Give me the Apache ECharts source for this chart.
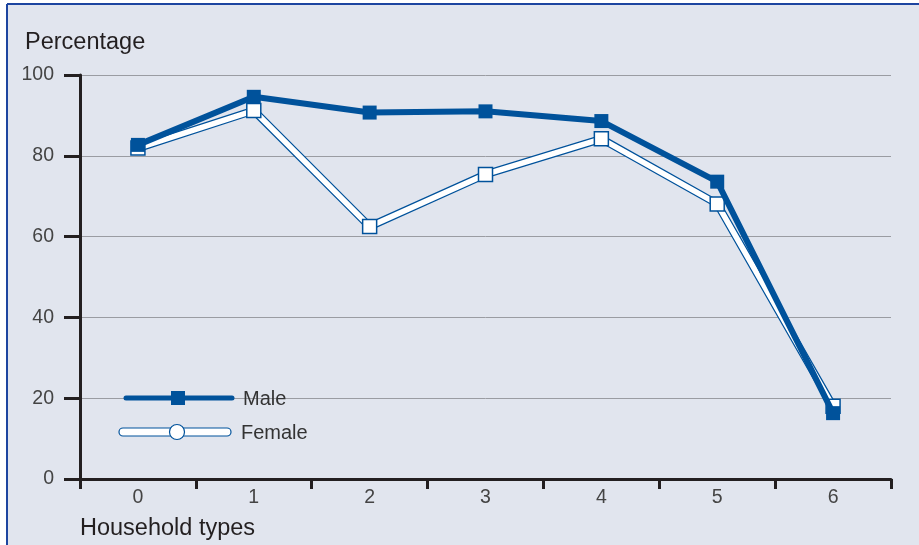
<!DOCTYPE html>
<html>
<head>
<meta charset="utf-8">
<script src="https://cdn.jsdelivr.net/npm/echarts@6/dist/echarts.min.js"></script>
<style>
html,body{margin:0;padding:0;background:#ffffff;}
#chart{width:919px;height:545px;}
</style>
</head>
<body>
<div id="chart"></div>
<script>
var categories = ['0', '1', '2', '3', '4', '5', '6'];
var maleValues = [82.7, 94.6, 90.7, 91.0, 88.6, 73.6, 16.3];
var femaleValues = [81.9, 91.2, 62.5, 75.4, 84.2, 68.1, 18.0];
var yTicks = { min: 0, max: 100, interval: 20 };

var BLUE = '#00529b';
var FONT = '"Liberation Sans", Arial, sans-serif';

var chart = echarts.init(document.getElementById('chart'), null, { renderer: 'canvas' });

chart.setOption({
  animation: false,
  backgroundColor: '#ffffff',
  textStyle: { fontFamily: FONT },
  grid: { left: 80, right: 28, top: 75, bottom: 66, containLabel: false },
  graphic: [
    { type: 'rect', z: -10, silent: true,
      shape: { x: 7, y: 4, width: 912, height: 541 },
      style: { fill: '#e1e5ee' } },
    { type: 'line', z: -9, silent: true,
      shape: { x1: 7, y1: 4, x2: 919, y2: 4 },
      style: { stroke: '#1d45a0', lineWidth: 2 } },
    { type: 'line', z: -9, silent: true,
      shape: { x1: 7, y1: 4, x2: 7, y2: 545 },
      style: { stroke: '#1d45a0', lineWidth: 2 } },
    { type: 'text', left: 25, top: 31, z: 5,
      style: { text: 'Percentage', fill: '#231f20', font: '23.5px ' + FONT } },
    { type: 'text', left: 80, top: 517, z: 5,
      style: { text: 'Household types', fill: '#231f20', font: '23.5px ' + FONT } },
    // legend: male
    { type: 'line', z: 20, shape: { x1: 126, y1: 398, x2: 232, y2: 398 },
      style: { stroke: BLUE, lineWidth: 5, lineCap: 'round' } },
    { type: 'rect', z: 21, shape: { x: 171, y: 391, width: 14, height: 14 },
      style: { fill: BLUE } },
    { type: 'text', left: 243, top: 389, z: 21,
      style: { text: 'Male', fill: '#333333', font: '20px ' + FONT } },
    // legend: female
    { type: 'rect', z: 20, shape: { x: 119, y: 428, width: 112, height: 8, r: 4 },
      style: { fill: '#ffffff', stroke: BLUE, lineWidth: 1.2 } },
    { type: 'circle', z: 21, shape: { cx: 177, cy: 432, r: 7.5 },
      style: { fill: '#ffffff', stroke: BLUE, lineWidth: 1.2 } },
    { type: 'text', left: 241, top: 423, z: 21,
      style: { text: 'Female', fill: '#333333', font: '20px ' + FONT } }
  ],
  xAxis: {
    type: 'category',
    data: categories,
    boundaryGap: true,
    axisLine: { show: true, lineStyle: { color: '#231f20', width: 3 } },
    axisTick: { show: true, inside: false, length: 10, lineStyle: { color: '#231f20', width: 3 } },
    axisLabel: { color: '#444444', fontSize: 19.5, margin: 9, fontFamily: FONT },
    splitLine: { show: false }
  },
  yAxis: {
    type: 'value',
    min: yTicks.min, max: yTicks.max, interval: yTicks.interval,
    axisLine: { show: true, lineStyle: { color: '#231f20', width: 3 } },
    axisTick: { show: true, inside: false, length: 16, lineStyle: { color: '#231f20', width: 3 } },
    axisLabel: { color: '#444444', fontSize: 19.5, margin: 26, fontFamily: FONT, padding: [3, 0, 0, 0] },
    splitLine: { show: true, lineStyle: { color: '#9a9ca2', width: 1 } }
  },
  series: [
    { name: 'Female outline', type: 'line', data: femaleValues, z: 2,
      symbol: 'none', silent: true,
      lineStyle: { color: BLUE, width: 8 } },
    { name: 'Female', type: 'line', data: femaleValues, z: 3,
      symbol: 'rect', symbolSize: 14,
      lineStyle: { color: '#ffffff', width: 5.5 },
      itemStyle: { color: '#ffffff', borderColor: BLUE, borderWidth: 1.5 } },
    { name: 'Male', type: 'line', data: maleValues, z: 4,
      symbol: 'rect', symbolSize: 14,
      lineStyle: { color: BLUE, width: 6 },
      itemStyle: { color: BLUE, borderWidth: 0 } }
  ]
});
</script>
</body>
</html>
